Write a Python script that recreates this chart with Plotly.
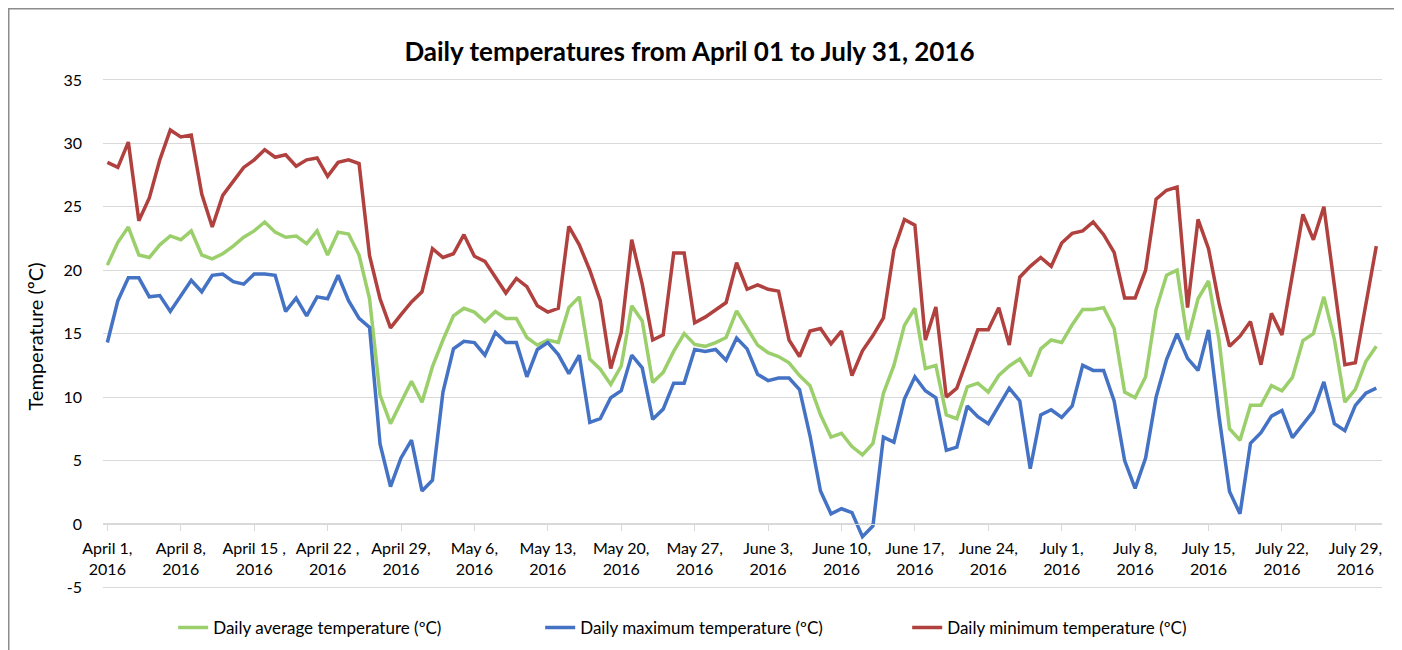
import pandas as pd
import plotly.graph_objects as go

dates = pd.date_range("2016-04-01", "2016-07-31", freq="D").strftime("%Y-%m-%d").tolist()

avg_temp = [20.4, 22.2, 23.4, 21.2, 21.0, 22.0, 22.7, 22.4, 23.1, 21.2,
            20.9, 21.3, 21.9, 22.6, 23.1, 23.8, 23.0, 22.6, 22.7, 22.1,
            23.1, 21.2, 23.0, 22.85, 21.2, 17.75, 10.15, 7.9, 9.6, 11.25,
            9.6, 12.4, 14.5, 16.4, 17.0, 16.7, 15.95, 16.75, 16.2, 16.2,
            14.7, 14.1, 14.5, 14.3, 17.05, 17.9, 13.0, 12.2, 11.0, 12.45,
            17.2, 16.0, 11.15, 11.95, 13.6, 15.0, 14.15, 14.0, 14.3, 14.7,
            16.8, 15.4, 14.1, 13.5, 13.2, 12.7, 11.7, 10.9, 8.6, 6.85,
            7.15, 6.1, 5.45, 6.35, 10.3, 12.5, 15.65, 17.0, 12.25, 12.5,
            8.6, 8.3, 10.8, 11.1, 10.4, 11.7, 12.45, 13.0, 11.65, 13.8,
            14.5, 14.3, 15.7, 16.9, 16.9, 17.05, 15.4, 10.4, 9.95, 11.6,
            16.9, 19.6, 20.0, 14.5, 17.75, 19.15, 14.5, 7.5, 6.6, 9.35,
            9.35, 10.9, 10.5, 11.55, 14.45, 15.0, 17.9, 14.55, 9.6, 10.6,
            12.8, 14.0]

max_temp = [14.3, 17.6, 19.4, 19.4, 17.9, 18.0, 16.75, 18.0, 19.2, 18.3,
            19.6, 19.7, 19.1, 18.9, 19.7, 19.7, 19.6, 16.75, 17.8, 16.4,
            17.9, 17.75, 19.6, 17.6, 16.2, 15.5, 6.3, 2.95, 5.2, 6.6,
            2.6, 3.45, 10.4, 13.8, 14.4, 14.3, 13.3, 15.1, 14.3, 14.3,
            11.6, 13.75, 14.3, 13.35, 11.85, 13.3, 8.0, 8.3, 9.95, 10.5,
            13.3, 12.3, 8.25, 9.05, 11.1, 11.1, 13.75, 13.6, 13.75, 12.9,
            14.65, 13.8, 11.8, 11.3, 11.5, 11.5, 10.6, 6.95, 2.6, 0.8,
            1.2, 0.9, -1.0, -0.15, 6.85, 6.45, 9.85, 11.6, 10.5, 9.95,
            5.8, 6.05, 9.3, 8.45, 7.9, 9.3, 10.7, 9.7, 4.35, 8.6,
            9.0, 8.4, 9.3, 12.5, 12.1, 12.1, 9.7, 5.0, 2.8, 5.2,
            10.0, 12.95, 15.0, 13.05, 12.1, 15.3, 8.5, 2.55, 0.8, 6.35,
            7.2, 8.5, 8.95, 6.8, 7.8, 8.9, 11.2, 7.9, 7.35, 9.35,
            10.3, 10.7]

min_temp = [28.5, 28.1, 30.1, 23.9, 25.7, 28.7, 31.05, 30.5, 30.65, 26.0,
            23.4, 25.9, 27.0, 28.1, 28.7, 29.5, 28.9, 29.1, 28.2, 28.7,
            28.85, 27.4, 28.5, 28.7, 28.4, 21.15, 17.75, 15.45, 16.5, 17.5,
            18.3, 21.7, 21.0, 21.3, 22.8, 21.1, 20.7, 19.45, 18.2, 19.35,
            18.7, 17.2, 16.7, 17.0, 23.45, 22.0, 20.0, 17.6, 12.25, 15.1,
            22.4, 18.9, 14.5, 14.9, 21.35, 21.35, 15.85, 16.3, 16.9, 17.45,
            20.6, 18.5, 18.85, 18.5, 18.35, 14.5, 13.2, 15.2, 15.4, 14.2,
            15.2, 11.7, 13.65, 14.85, 16.25, 21.6, 24.0, 23.55, 14.5, 17.1,
            10.0, 10.7, 13.0, 15.3, 15.3, 17.05, 14.1, 19.45, 20.3, 21.0,
            20.3, 22.15, 22.9, 23.1, 23.8, 22.8, 21.4, 17.8, 17.8, 20.0,
            25.6, 26.3, 26.55, 17.05, 24.0, 21.7, 17.4, 14.0, 14.8, 15.95,
            12.55, 16.6, 14.9, 19.6, 24.4, 22.4, 25.0, 18.8, 12.55, 12.7,
            17.25, 21.9]

tick_dates = ["2016-04-01", "2016-04-08", "2016-04-15", "2016-04-22", "2016-04-29",
              "2016-05-06", "2016-05-13", "2016-05-20", "2016-05-27", "2016-06-03",
              "2016-06-10", "2016-06-17", "2016-06-24", "2016-07-01", "2016-07-08",
              "2016-07-15", "2016-07-22", "2016-07-29"]
tick_labels = ["April 1,<br>2016", "April 8,<br>2016", "April 15 ,<br>2016", "April 22 ,<br>2016",
               "April 29,<br>2016", "May 6,<br>2016", "May 13,<br>2016", "May 20,<br>2016",
               "May 27,<br>2016", "June 3,<br>2016", "June 10,<br>2016", "June 17,<br>2016",
               "June 24,<br>2016", "July 1,<br>2016", "July 8,<br>2016", "July 15,<br>2016",
               "July 22,<br>2016", "July 29,<br>2016"]

y_tick_vals = [-5, 0, 5, 10, 15, 20, 25, 30, 35]
y_tick_text = ["-5", "0", "5", "10", "15", "20", "25", "30", "35"]

series = [
    ("Daily average temperature (ºC)", avg_temp, "#9BCF6B"),
    ("Daily maximum temperature (ºC)", max_temp, "#4472C4"),
    ("Daily minimum temperature (ºC)", min_temp, "#B0413E"),
]

FONT = "Lato, Calibri, 'Open Sans', sans-serif"

fig = go.Figure()
for name, vals, color in series:
    fig.add_trace(go.Scatter(x=dates, y=vals, mode="lines", name=name,
                             line=dict(color=color, width=3.5)))

# page body has an 8px margin, so the figure is laid out 8px smaller/shifted
W, H = 1394, 642
L, R, T, B = 95, 20, 70, 55
Y0, Y1 = -5.6, 35.15

fig.update_layout(
    width=W, height=H,
    margin=dict(l=L, r=R, t=T, b=B, autoexpand=False),
    paper_bgcolor="white", plot_bgcolor="white",
    font=dict(family=FONT, color="#000000", size=16),
    title=dict(text="<b>Daily temperatures from April 01 to July 31, 2016</b>",
               x=681.5 / W, xref="container", xanchor="center",
               y=1 - 44 / H, yref="container", yanchor="middle",
               font=dict(size=26, family=FONT, color="#000000")),
    xaxis=dict(type="date",
               range=["2016-03-31 14:00", "2016-07-31 13:00"],
               tickmode="array", tickvals=tick_dates, ticktext=tick_labels,
               anchor="free", position=(0 - Y0) / (Y1 - Y0),
               showgrid=False, zeroline=False,
               showline=True, linecolor="#d9d9d9", linewidth=1,
               ticks="outside", ticklen=6, tickcolor="#d9d9d9",
               tickangle=0, ticklabelstandoff=4,
               tickfont=dict(size=16, family=FONT, color="#000000")),
    yaxis=dict(range=[Y0, Y1], tickmode="array",
               tickvals=y_tick_vals, ticktext=y_tick_text,
               showgrid=True, gridcolor="#d9d9d9", gridwidth=1,
               zeroline=False, showline=False, ticks="",
               ticklabelstandoff=20,
               tickfont=dict(size=16, family=FONT, color="#000000"),
               title=dict(text="Temperature (ºC)", standoff=14,
                          font=dict(size=20, family=FONT, color="#000000"))),
    legend=dict(orientation="h", xref="container", x=0.5134, xanchor="center",
                yref="container", y=1 - 620 / H, yanchor="middle",
                entrywidth=322, font=dict(size=17, family=FONT, color="#000000"),
                bgcolor="rgba(0,0,0,0)"),
    showlegend=True,
)

# Chart frame border
pw = W - L - R
ph = H - T - B
fig.add_shape(type="rect", xref="paper", yref="paper",
              x0=(0.75 - L) / pw, x1=(1392 - L) / pw,
              y0=-(H + 10 - (H - B)) / ph, y1=1 + (T - 0.75) / ph,
              line=dict(color="#8c8c8c", width=1.5), fillcolor="rgba(0,0,0,0)",
              layer="below")

fig.write_html("out.html")
